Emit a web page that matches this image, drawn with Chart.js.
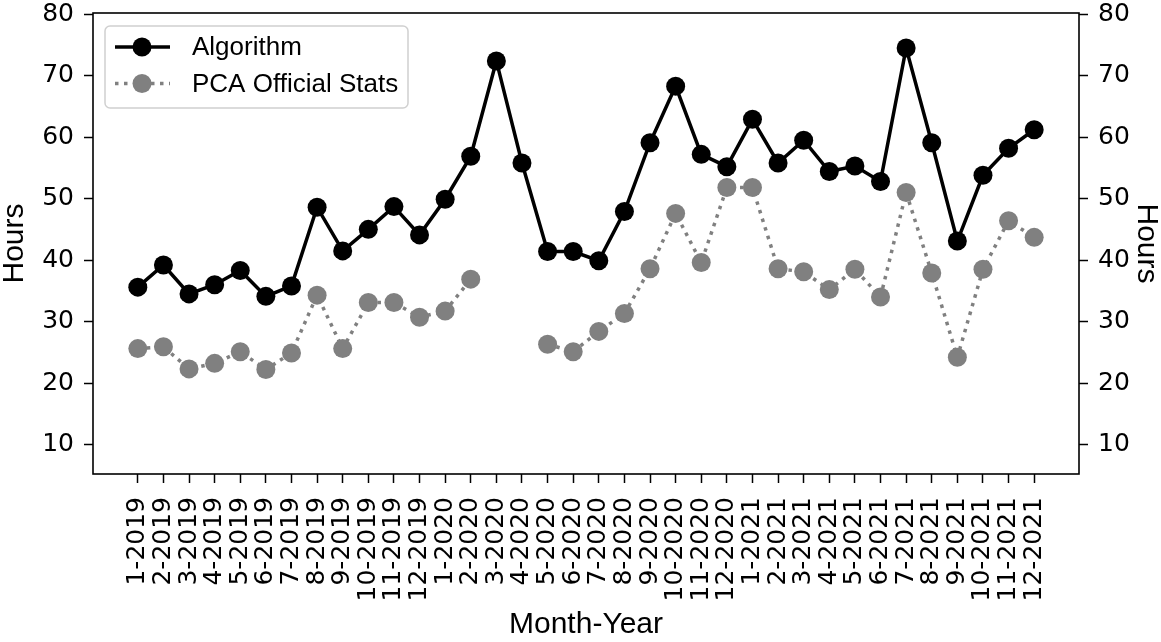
<!DOCTYPE html>
<html>
<head>
<meta charset="utf-8">
<script src="https://cdn.jsdelivr.net/npm/chart.js@4"></script>
<style>
  html, body { margin: 0; padding: 0; background: #fff; }
  #wrap { width: 1161px; height: 642px; }
</style>
</head>
<body>
<div id="wrap"><canvas id="myChart" width="1161" height="642"></canvas></div>
<script>
// month labels along the x axis
const months = [
  '1-2019', '2-2019', '3-2019', '4-2019', '5-2019', '6-2019', '7-2019', '8-2019', '9-2019', '10-2019', '11-2019', '12-2019',
  '1-2020', '2-2020', '3-2020', '4-2020', '5-2020', '6-2020', '7-2020', '8-2020', '9-2020', '10-2020', '11-2020', '12-2020',
  '1-2021', '2-2021', '3-2021', '4-2021', '5-2021', '6-2021', '7-2021', '8-2021', '9-2021', '10-2021', '11-2021', '12-2021'
];

// hours
const algorithm = [
  35.6, 39.2, 34.5, 36.0, 38.3, 34.1, 35.8, 48.6, 41.5, 45.0, 48.7, 44.1,
  49.9, 56.9, 72.4, 55.8, 41.4, 41.4, 39.9, 47.9, 59.1, 68.3, 57.2, 55.2,
  62.9, 55.8, 59.5, 54.4, 55.3, 52.8, 74.5, 59.1, 43.1, 53.8, 58.2, 61.2
];
const pcaStats = [
  25.6, 25.9, 22.3, 23.2, 25.1, 22.2, 24.9, 34.3, 25.6, 33.1, 33.1, 30.7,
  31.7, 36.9, null, null, 26.3, 25.1, 28.4, 31.3, 38.6, 47.6, 39.6, 51.8,
  51.8, 38.6, 38.1, 35.2, 38.5, 34.0, 51.0, 37.9, 24.2, 38.5, 46.4, 43.7
];

const yTicks = [10, 20, 30, 40, 50, 60, 70, 80];

const seriesNames = ['Algorithm', 'PCA Official Stats'];

Chart.defaults.color = '#000';

const tickFont = { family: 'DejaVu Sans', size: 25 };
const titleFont = { family: 'Liberation Sans', size: 30, lineHeight: 1 };

// box around the plot like matplotlib
const frame = {
  id: 'frame',
  afterDatasetsDraw(chart) {
    const a = chart.chartArea, c = chart.ctx;
    c.save();
    c.strokeStyle = '#000';
    c.lineWidth = 1.6;
    c.strokeRect(a.left, a.top, a.right - a.left, a.bottom - a.top);
    c.restore();
  }
};

// legend with line + marker samples
const lineLegend = {
  id: 'lineLegend',
  afterDraw(chart) {
    const a = chart.chartArea, c = chart.ctx;
    const x0 = a.left + 12, y0 = a.top + 13, w = 303, h = 82;
    c.save();
    c.beginPath();
    c.roundRect(x0, y0, w, h, 5);
    c.fillStyle = 'rgba(255,255,255,0.8)';
    c.fill();
    c.strokeStyle = '#d0d0d0';
    c.lineWidth = 1.5;
    c.stroke();
    chart.data.datasets.forEach((ds, i) => {
      const y = y0 + 21 + i * 36.5;
      c.beginPath();
      c.setLineDash(ds.borderDash || []);
      c.strokeStyle = ds.borderColor;
      c.lineWidth = ds.borderWidth;
      c.moveTo(x0 + 10, y);
      c.lineTo(x0 + 65, y);
      c.stroke();
      c.setLineDash([]);
      c.beginPath();
      c.arc(x0 + 37, y, ds.pointRadius, 0, Math.PI * 2);
      c.fillStyle = ds.pointBackgroundColor;
      c.fill();
      c.fillStyle = '#000';
      c.font = '26px "Liberation Sans"';
      c.textBaseline = 'middle';
      c.fillText(ds.label, x0 + 87, y + 1);
    });
    c.restore();
  }
};

const noPad = (s) => { s.paddingTop = 0; s.paddingBottom = 0; s.paddingLeft = 0; s.paddingRight = 0; };

const ctx = document.getElementById('myChart');

new Chart(ctx, {
  type: 'line',
  data: {
    datasets: [{
      label: seriesNames[0],
      data: algorithm.map((v, i) => ({ x: i, y: v })),
      borderColor: '#000',
      borderWidth: 3.5,
      pointRadius: 9.5,
      pointBackgroundColor: '#000',
      pointBorderWidth: 0,
      order: 1
    }, {
      label: seriesNames[1],
      data: pcaStats.map((v, i) => ({ x: i, y: v })),
      borderColor: '#808080',
      borderWidth: 3.5,
      borderDash: [3.5, 5.5],
      borderCapStyle: 'butt',
      pointRadius: 9.5,
      pointBackgroundColor: '#808080',
      pointBorderWidth: 0,
      spanGaps: false,
      order: 0
    }]
  },
  options: {
    responsive: false,
    animation: false,
    events: [],
    layout: { padding: { top: 13, left: 0, right: 0, bottom: 0 } },
    plugins: {
      legend: { display: false },
      tooltip: { enabled: false }
    },
    scales: {
      x: {
        type: 'linear',
        min: -1.75,
        max: 36.75,
        afterBuildTicks: (s) => { s.ticks = months.map((m, i) => ({ value: i })); },
        afterFit: (s) => { s.height = 168; noPad(s); },
        border: { display: false },
        grid: { drawOnChartArea: false, drawTicks: true, tickLength: 9, tickWidth: 1.5, tickColor: '#000' },
        ticks: {
          autoSkip: false,
          minRotation: 90,
          maxRotation: 90,
          padding: 14,
          font: tickFont,
          callback: (v) => months[v]
        },
        title: { display: true, text: 'Month-Year', font: titleFont, padding: { top: 0, bottom: 2 } }
      },
      y: {
        position: 'left',
        min: 5.2,
        max: 80.2,
        afterBuildTicks: (s) => { s.ticks = yTicks.map(v => ({ value: v })); },
        afterFit: (s) => { s.width = 93; noPad(s); },
        border: { display: false },
        grid: { drawOnChartArea: false, drawTicks: true, tickLength: 9, tickWidth: 1.5, tickColor: '#000' },
        ticks: { padding: 10, font: tickFont },
        title: { display: true, text: 'Hours', font: titleFont, padding: 0 }
      },
      y2: {
        position: 'right',
        min: 5.2,
        max: 80.2,
        afterBuildTicks: (s) => { s.ticks = yTicks.map(v => ({ value: v })); },
        afterFit: (s) => { s.width = 82; noPad(s); },
        border: { display: false },
        grid: { drawOnChartArea: false, drawTicks: true, tickLength: 9, tickWidth: 1.5, tickColor: '#000' },
        ticks: { padding: 10, font: tickFont },
        title: { display: true, text: 'Hours', font: titleFont, padding: 0 }
      }
    }
  },
  plugins: [frame, lineLegend]
});
</script>
</body>
</html>
